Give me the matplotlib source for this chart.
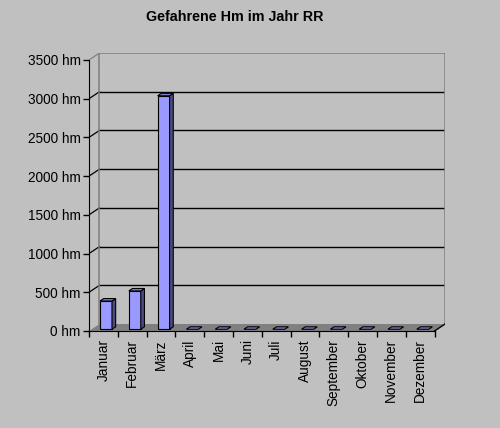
import matplotlib.pyplot as plt
from matplotlib.patches import Polygon

months = ["Januar", "Februar", "März", "April", "Mai", "Juni", "Juli",
          "August", "September", "Oktober", "November", "Dezember"]
hm = [365, 495, 3015, 0, 0, 0, 0, 0, 0, 0, 0, 0]
yticks = [0, 500, 1000, 1500, 2000, 2500, 3000, 3500]

bg = "#c0c0c0"
front_c = "#9999ff"
side_c = "#4c4c80"
top_c = "#8080d0"
wall_c = "#808080"

# 3D depth offset (x in category units, y in value units)
dx, dy = 0.364, 90.0
n = len(months)
ymax = 3500

plt.rcParams["font.family"] = ["Liberation Sans", "DejaVu Sans"]

fig = plt.figure(figsize=(5, 4.28), dpi=100, facecolor=bg)
ax = fig.add_axes([89 / 500, 97 / 428, 356 / 500, 278 / 428])
ax.set_facecolor(bg)
ax.set_xlim(0, n + dx)
ax.set_ylim(0, ymax + dy)

# floor
ax.add_patch(Polygon([(0, 0), (n, 0), (n + dx, dy), (dx, dy)],
                     closed=True, facecolor=wall_c, edgecolor="none", zorder=1))
ax.plot([n, n + dx], [0, dy], color="black", lw=1, zorder=2)

# back wall and left wall gridlines
for v in yticks[1:-1]:
    ax.plot([dx, n + dx], [v + dy, v + dy], color="black", lw=1.0, zorder=1)
    ax.plot([0, dx], [v, v + dy], color="black", lw=0.9, zorder=1)
ax.plot([dx, n + dx, n + dx], [ymax + dy, ymax + dy, dy], color=wall_c, lw=1.1, zorder=1)
ax.plot([dx, dx], [dy, ymax + dy], color=wall_c, lw=1.1, zorder=1)
ax.plot([0, dx], [ymax, ymax + dy], color=wall_c, lw=0.9, zorder=1)

# bars
bw = 0.415
f0, f1 = 0.25, 0.6
for i, v in enumerate(hm):
    x0 = i + 0.5 - bw / 2 + f0 * dx
    y0 = f0 * dy
    ox, oy = (f1 - f0) * dx, (f1 - f0) * dy
    if v > 0:
        ax.bar(x0, v, width=bw, bottom=y0, align="edge", color=front_c,
               edgecolor="black", lw=0.8, zorder=3)
        ax.add_patch(Polygon([(x0 + bw, y0), (x0 + bw + ox, y0 + oy),
                              (x0 + bw + ox, y0 + v + oy), (x0 + bw, y0 + v)],
                             closed=True, facecolor=side_c, edgecolor="black",
                             lw=0.8, zorder=3))
    ax.add_patch(Polygon([(x0, y0 + v), (x0 + bw, y0 + v),
                          (x0 + bw + ox, y0 + v + oy), (x0 + ox, y0 + v + oy)],
                         closed=True, facecolor=top_c, edgecolor="black",
                         lw=0.8, zorder=3))

# axes styling
for s in ["top", "right"]:
    ax.spines[s].set_visible(False)
ax.spines["left"].set_bounds(0, ymax)
ax.spines["bottom"].set_bounds(0, n)
ax.spines["left"].set_zorder(4)
ax.spines["bottom"].set_zorder(4)

ax.set_yticks(yticks)
ax.set_yticklabels([f"{v} hm" for v in yticks], fontsize=9.8)
ax.set_xticks(range(n + 1))
ax.set_xticklabels([])
ax.set_xticks([i + 0.5 for i in range(n)], minor=True)
ax.set_xticklabels(months, minor=True, rotation=90, fontsize=9.8, va="top")
ax.tick_params(axis="both", which="major", direction="out", length=4, width=1, pad=2)
ax.tick_params(axis="x", which="minor", length=0, pad=6)

fig.text(0.47, 0.9614, "Gefahrene Hm im Jahr RR", ha="center", va="center",
         fontsize=10.3, fontweight="bold")

fig.savefig("out.png", dpi=100, facecolor=bg)
